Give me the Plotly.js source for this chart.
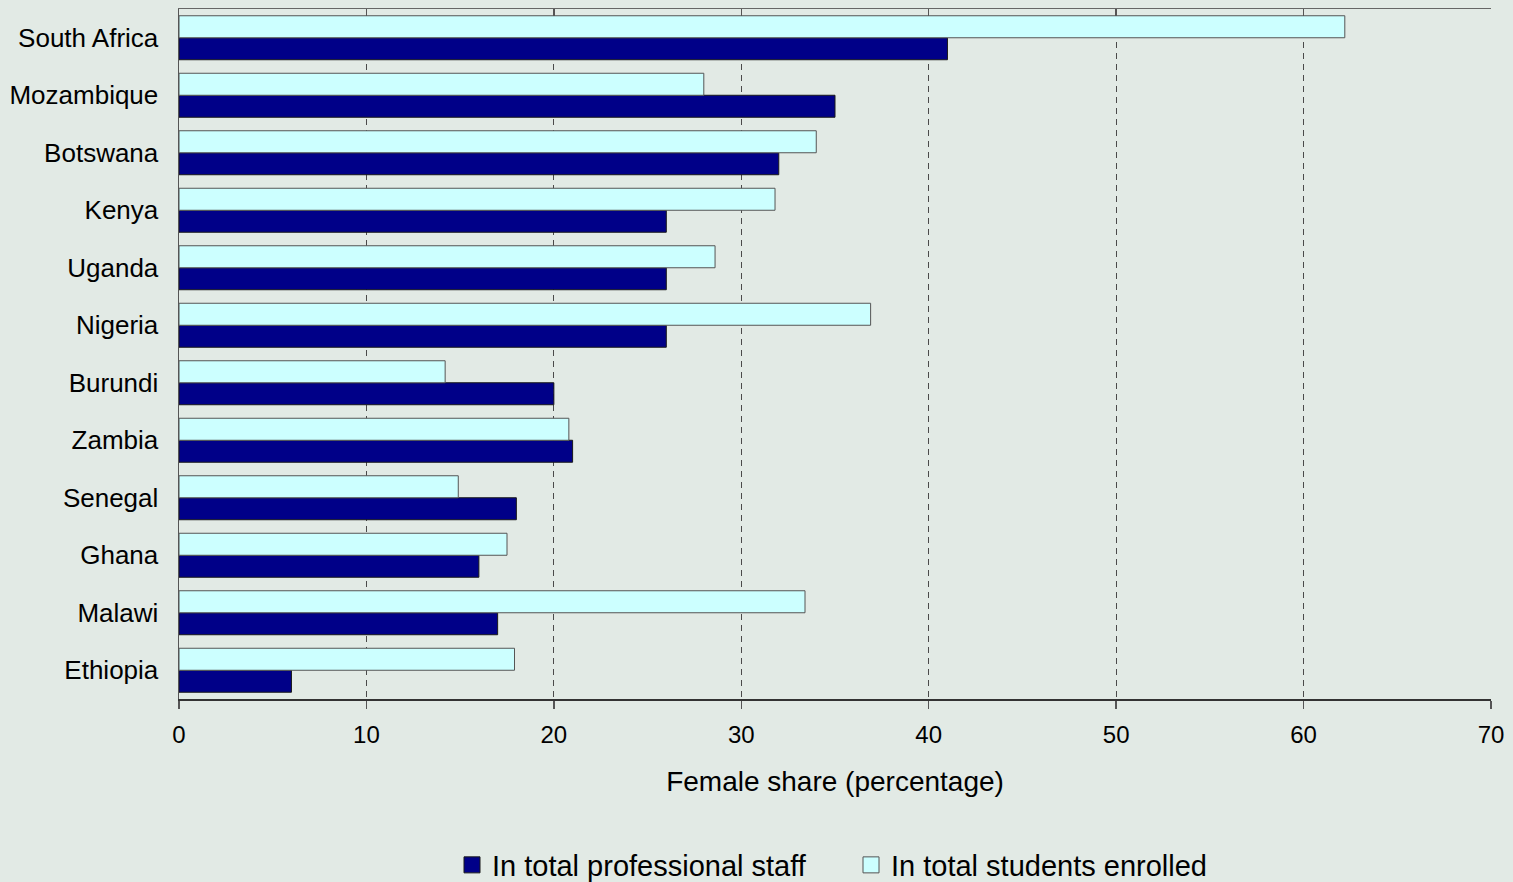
<!DOCTYPE html>
<html>
<head>
<meta charset="utf-8">
<script src="https://cdn.plot.ly/plotly-3.0.1.min.js"></script>
<style>
  html, body { margin: 0; padding: 0; background: #E2EAE5; }
  #chart { width: 1513px; height: 882px; }
</style>
</head>
<body>
<div id="chart"></div>
<script>
// Countries, listed from the top of the chart downwards
const countries = ['South Africa', 'Mozambique', 'Botswana', 'Kenya', 'Uganda', 'Nigeria',
                   'Burundi', 'Zambia', 'Senegal', 'Ghana', 'Malawi', 'Ethiopia'];

// Female share in total professional staff (%)
const staffShare = [41.0, 35.0, 32.0, 26.0, 26.0, 26.0, 20.0, 21.0, 18.0, 16.0, 17.0, 6.0];

// Female share in total students enrolled (%)
const studentShare = [62.2, 28.0, 34.0, 31.8, 28.6, 36.9, 14.2, 20.8, 14.9, 17.5, 33.4, 17.9];

const xTicks = [0, 10, 20, 30, 40, 50, 60, 70];

const staffName = 'In total professional staff';
const studentName = 'In total students enrolled';
const staffColor = '#000088';
const studentColor = '#CCFFFF';

const baseFont = 'Liberation Sans, Arial, sans-serif';

const traces = [
  {
    type: 'bar', orientation: 'h', name: staffName,
    x: staffShare, y: countries, showlegend: false,
    marker: { color: staffColor, line: { color: '#1a1a1a', width: 1 } },
    hoverinfo: 'x+y'
  },
  {
    type: 'bar', orientation: 'h', name: studentName,
    x: studentShare, y: countries, showlegend: false,
    marker: { color: studentColor, line: { color: '#555555', width: 1 } },
    hoverinfo: 'x+y'
  },
  // Legend swatches (square markers)
  {
    type: 'scatter', mode: 'markers', name: staffName, x: [null], y: [null],
    marker: { symbol: 'square', size: 16, color: staffColor, line: { color: '#1a1a1a', width: 1 } }
  },
  {
    type: 'scatter', mode: 'markers', name: studentName, x: [null], y: [null],
    marker: { symbol: 'square', size: 16, color: studentColor, line: { color: '#555555', width: 1 } }
  },
  // Carries the top frame axis
  {
    type: 'scatter', mode: 'markers', x: staffShare, y: countries, xaxis: 'x2',
    marker: { opacity: 0 }, showlegend: false, hoverinfo: 'skip'
  }
];

const layout = {
  width: 1513, height: 882,
  paper_bgcolor: '#E2EAE5', plot_bgcolor: '#E2EAE5',
  margin: { l: 179, r: 22, t: 9, b: 183, autoexpand: false },
  font: { family: baseFont, color: '#000000', size: 25 },
  barmode: 'group', bargap: 0.235, bargroupgap: 0,
  xaxis: {
    range: [0, 70], tickvals: xTicks, ticktext: xTicks.map(String), automargin: false,
    showgrid: true, gridcolor: '#4a4a4a', gridwidth: 1, griddash: '6px,5px',
    zeroline: false, showline: true, linecolor: '#333333', linewidth: 1.5,
    ticks: 'outside', ticklen: 8, tickcolor: '#555555', tickwidth: 1.5,
    ticklabelstandoff: 6,
    tickfont: { size: 24 },
    title: { text: 'Female share (percentage)', font: { size: 28 }, standoff: 24 },
    fixedrange: true
  },
  xaxis2: {
    overlaying: 'x', side: 'top', range: [0, 70], tickvals: xTicks, automargin: false,
    showticklabels: false, showgrid: false, zeroline: false,
    showline: true, linecolor: '#666666', linewidth: 1.5,
    ticks: 'inside', ticklen: 7, tickcolor: '#555555', tickwidth: 1.5,
    fixedrange: true
  },
  yaxis: {
    type: 'category', categoryorder: 'array', categoryarray: countries.slice().reverse(),
    range: [-0.5, countries.length - 0.5], autorange: false,
    showgrid: false, zeroline: false, showline: true, linecolor: '#555555', linewidth: 1.5,
    ticks: '', ticklabelstandoff: 14, tickfont: { size: 26 }, automargin: false,
    fixedrange: true
  },
  showlegend: true,
  legend: {
    orientation: 'h', x: 0.5122, xanchor: 'center', y: -0.2406, yanchor: 'middle',
    font: { family: baseFont, size: 29 },
    bgcolor: 'rgba(0,0,0,0)', itemwidth: 30, entrywidth: 354, traceorder: 'normal'
  }
};

Plotly.newPlot('chart', traces, layout, { displayModeBar: false, staticPlot: true });
</script>
</body>
</html>
